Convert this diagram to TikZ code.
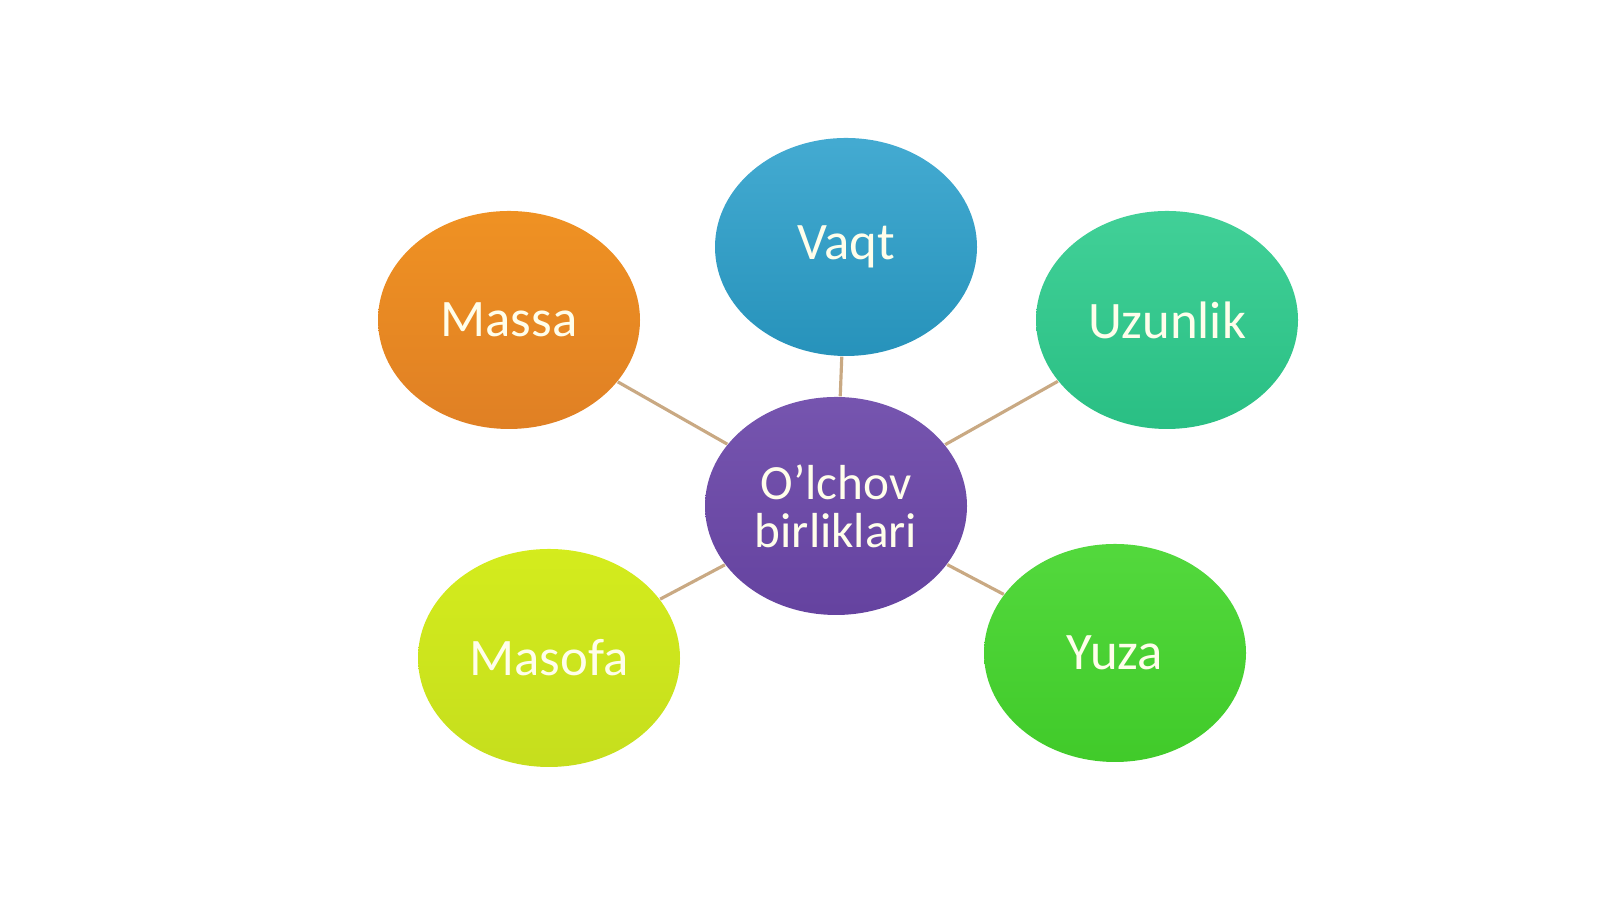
\documentclass[tikz,border=0pt]{standalone}
\usepackage{fontspec}
\setmainfont{Carlito}
\usetikzlibrary{positioning, shapes.geometric}

\definecolor{centrepurple}{HTML}{6A46A8}
\definecolor{vaqtblue}{HTML}{2A9FCB}
\definecolor{massaorange}{HTML}{EE8826}
\definecolor{uzunlikteal}{HTML}{2CCB8C}
\definecolor{masofayellow}{HTML}{D0EA1F}
\definecolor{yuzagreen}{HTML}{44D52C}
\definecolor{linktan}{HTML}{C9A983}

\begin{document}
\begin{tikzpicture}[
 bubble/.style={ellipse, minimum width=2.62cm, minimum height=2.18cm, inner sep=0pt,
   text=white!92!yellow, font=\fontsize{15}{15}\selectfont, align=center},
 link/.style={-, draw=linktan, line width=0.9pt},
 ]

  % Canvas
  \useasboundingbox (0,0) rectangle (16,8.99);

  % Centre bubble
  \node[bubble, top color=centrepurple!92!white, bottom color=centrepurple!95!black,
    font=\fontsize{14}{13.7}\selectfont] (centre) at (8.36,3.93) {O'lchov\\birliklari};

  % Outer bubbles
  \node[bubble, top color=vaqtblue!88!white, bottom color=vaqtblue!92!black] (vaqt) at (8.46,6.52) {Vaqt};
  \node[bubble, top color=massaorange!92!yellow, bottom color=massaorange!94!black] (massa) at (5.09,5.79) {Massa};
  \node[bubble, top color=uzunlikteal!90!white, bottom color=uzunlikteal!94!black] (uzunlik) at (11.67,5.79) {Uzunlik};
  \node[bubble, top color=masofayellow!92!yellow, bottom color=masofayellow!95!black] (masofa) at (5.49,2.41) {Masofa};
  \node[bubble, top color=yuzagreen!92!white, bottom color=yuzagreen!95!black] (yuza) at (11.15,2.46) {Yuza};

  % Links from the centre
  \draw[link] (centre) -- (vaqt);
  \draw[link] (centre) -- (massa);
  \draw[link] (centre) -- (uzunlik);
  \draw[link] (centre) -- (masofa);
  \draw[link] (centre) -- (yuza);

  \end{tikzpicture}
\end{document}
